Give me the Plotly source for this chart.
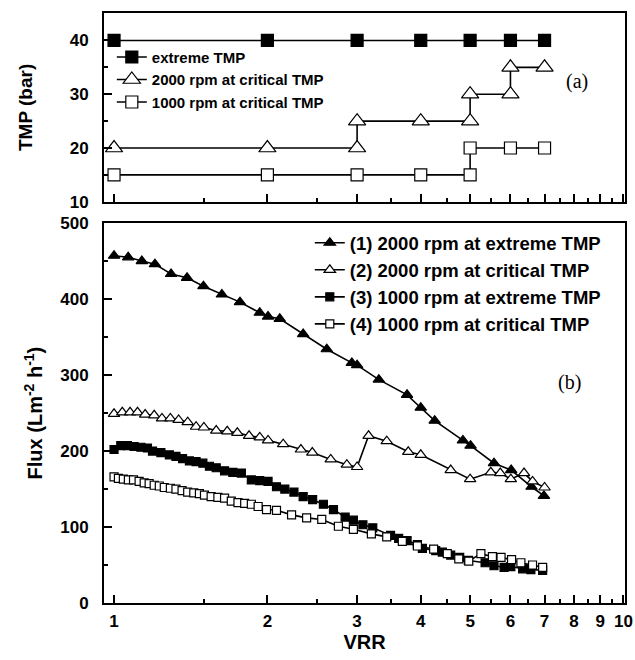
import plotly.graph_objects as go

# ---------------- data ----------------
# panel (a): TMP steps
tmp_vrr_ext = [1, 2, 3, 4, 5, 6, 7]
tmp_ext = [40, 40, 40, 40, 40, 40, 40]
tmp_vrr_2000 = [1, 2, 3, 3, 4, 5, 5, 6, 6, 7]
tmp_2000 = [20, 20, 20, 25, 25, 25, 30, 30, 35, 35]
tmp_vrr_1000 = [1, 2, 3, 4, 5, 5, 6, 7]
tmp_1000 = [15, 15, 15, 15, 15, 20, 20, 20]

# panel (b): flux
vrr1 = [1.00, 1.066, 1.134, 1.203, 1.294, 1.391, 1.498, 1.628, 1.767, 1.932, 2.006, 2.115,
        2.351, 2.616, 2.93, 3.0, 3.31, 3.76, 4.0, 4.26, 4.84, 5.01, 5.57, 6.02, 6.6, 6.98]
flux1 = [457, 455, 450, 446, 433, 428, 417, 406, 396, 382, 377, 374,
         354, 334, 316, 313, 294, 274, 257, 240, 214, 207, 184, 175, 153, 141]

vrr2 = [1.0, 1.038, 1.075, 1.112, 1.151, 1.199, 1.242, 1.29, 1.339, 1.395, 1.449, 1.501,
        1.587, 1.668, 1.746, 1.841, 1.932, 2.006, 2.148, 2.327, 2.45, 2.663, 2.864, 3.0,
        3.16, 3.43, 3.78, 4.0, 4.58, 5.0, 5.49, 5.73, 6.01, 6.38, 6.63, 7.0]
flux2 = [249, 251, 251, 251, 248, 247, 243, 243, 241, 238, 232, 231,
         227, 226, 224, 220, 218, 214, 209, 202, 198, 189, 182, 179,
         220, 213, 199, 195, 175, 163, 172, 171, 163, 171, 160, 152]

vrr3 = [1.0, 1.031, 1.062, 1.095, 1.129, 1.163, 1.19, 1.236, 1.284, 1.323, 1.363, 1.406,
        1.449, 1.494, 1.539, 1.587, 1.648, 1.711, 1.778, 1.86, 1.932, 2.006, 2.084, 2.164,
        2.255, 2.351, 2.454, 2.576, 2.696, 2.842, 2.95, 3.08, 3.22, 3.49, 3.62, 3.76,
        3.94, 4.03, 4.28, 4.41, 4.58, 4.77, 4.96, 5.35, 5.57, 5.83, 6.01, 6.34, 6.58, 6.94]
flux3 = [202, 207, 207, 206, 205, 204, 200, 198, 195, 193, 190, 187,
         186, 184, 180, 178, 174, 172, 171, 162, 161, 160, 153, 150,
         146, 140, 136, 130, 123, 113, 109, 103, 99, 89, 85, 82,
         77, 72, 69, 67, 63, 60, 56, 53, 49, 47, 48, 45, 44, 43]

vrr4 = [1.0, 1.02, 1.043, 1.067, 1.092, 1.12, 1.146, 1.172, 1.199, 1.227, 1.255, 1.29,
        1.323, 1.36, 1.395, 1.434, 1.471, 1.505, 1.551, 1.599, 1.648, 1.699, 1.751, 1.805,
        1.86, 1.918, 1.992, 2.084, 2.231, 2.388, 2.557, 2.757, 2.95, 3.2, 3.43, 3.68,
        3.94, 4.24, 4.51, 4.75, 4.97, 5.25, 5.53, 5.75, 6.03, 6.29, 6.63, 6.94]
flux4 = [166, 164, 163, 162, 162, 160, 158, 157, 155, 154, 152, 151,
         150, 148, 146, 145, 144, 142, 140, 139, 138, 134, 132, 131,
         130, 127, 123, 122, 116, 112, 110, 101, 97, 91, 87, 81,
         75, 71, 65, 58, 55, 65, 61, 60, 57, 53, 50, 47]

top_names = ["extreme TMP", "2000 rpm at critical TMP", "1000 rpm at critical TMP"]
bot_names = ["(1) 2000 rpm at extreme TMP", "(2) 2000 rpm at critical TMP",
             "(3) 1000 rpm at extreme TMP", "(4) 1000 rpm at critical TMP"]

x_major = [1, 2, 3, 4, 5, 6, 7, 8, 9, 10]
x_minor = [1.5, 2.5, 3.5, 4.5, 5.5, 6.5, 7.5, 8.5, 9.5]

# ---------------- figure ----------------
SANS = "Liberation Sans, Arial, sans-serif"
SERIF = "Liberation Serif, Times New Roman, serif"
LW = 1.6

fig = go.Figure()

def add(x, y, name, symbol, fill, size, xa, ya, legend):
    fig.add_trace(go.Scatter(
        x=x, y=y, name=name, mode="lines+markers", xaxis=xa, yaxis=ya, legend=legend,
        line=dict(color="black", width=LW),
        marker=dict(symbol=symbol, size=size, color=fill, line=dict(color="black", width=1.2)),
    ))

add(tmp_vrr_ext, tmp_ext, top_names[0], "square", "black", 12, "x2", "y2", "legend")
add(tmp_vrr_2000, tmp_2000, top_names[1], "triangle-up", "white", 15, "x2", "y2", "legend")
add(tmp_vrr_1000, tmp_1000, top_names[2], "square", "white", 12, "x2", "y2", "legend")

add(vrr1, flux1, bot_names[0], "triangle-up", "black", 10, "x", "y", "legend2")
add(vrr2, flux2, bot_names[1], "triangle-up", "white", 10, "x", "y", "legend2")
add(vrr3, flux3, bot_names[2], "square", "black", 8, "x", "y", "legend2")
add(vrr4, flux4, bot_names[3], "square", "white", 8, "x", "y", "legend2")

tickfont = dict(family=SANS, size=17, color="black", weight="bold")
titlefont = dict(family=SANS, size=20, color="black", weight="bold")

common_x = dict(
    type="log", range=[-0.0197, 1.003], automargin=False,
    tickmode="array", tickvals=x_major, ticktext=[str(v) for v in x_major],
    ticks="inside", ticklen=8, tickwidth=1.5, tickcolor="black",
    minor=dict(tickmode="array", tickvals=x_minor, ticks="inside", ticklen=4,
               tickwidth=1.5, tickcolor="black"),
    showline=True, linewidth=2, linecolor="black", mirror=True,
    showgrid=False, zeroline=False, tickfont=tickfont,
)

fig.update_layout(
    width=635, height=660,
    margin=dict(l=104, r=10, t=13, b=57),
    paper_bgcolor="white", plot_bgcolor="white",
    font=dict(family=SANS, color="black"),
    xaxis=dict(common_x, anchor="y", ticklabelstandoff=2,
               title=dict(text="VRR", font=titlefont, standoff=4)),
    xaxis2=dict(common_x, anchor="y2", matches="x", showticklabels=False),
    yaxis=dict(domain=[0, 0.6439], range=[0, 500], tickvals=[0, 100, 200, 300, 400, 500],
               automargin=False,
               ticks="inside", ticklen=8, tickwidth=1.5, tickcolor="black",
               minor=dict(tickvals=[50, 150, 250, 350, 450], ticks="inside", ticklen=4,
                          tickwidth=1.5, tickcolor="black"),
               showline=True, linewidth=2, linecolor="black", mirror=True,
               showgrid=False, zeroline=False, tickfont=tickfont, ticklabelstandoff=10,
               title=dict(text="Flux (Lm<sup>-2</sup> h<sup>-1</sup>)", font=titlefont, standoff=12)),
    yaxis2=dict(domain=[0.680, 1], range=[10, 45.1], tickvals=[10, 20, 30, 40],
                automargin=False,
                ticks="inside", ticklen=8, tickwidth=1.5, tickcolor="black",
                minor=dict(tickvals=[15, 25, 35], ticks="inside", ticklen=4,
                           tickwidth=1.5, tickcolor="black"),
                showline=True, linewidth=2, linecolor="black", mirror=True,
                showgrid=False, zeroline=False, tickfont=tickfont, ticklabelstandoff=10,
                title=dict(text="TMP (bar)", font=dict(titlefont, size=19), standoff=32)),
    legend=dict(x=0.015, y=0.953, xanchor="left", yanchor="top", bgcolor="rgba(0,0,0,0)",
                font=dict(family=SANS, size=15, color="black", weight="bold"),
                tracegroupgap=0),
    legend2=dict(x=0.395, y=0.642, xanchor="left", yanchor="top", bgcolor="rgba(0,0,0,0)",
                 font=dict(family=SANS, size=18.5, color="black", weight="bold"),
                 tracegroupgap=0),
    showlegend=True,
)

fig.add_annotation(text="(a)", xref="paper", yref="paper", x=(590 - 104) / 521,
                   y=(602.7 - 68) / 589.7, showarrow=False,
                   font=dict(family=SERIF, size=20, color="black"))
fig.add_annotation(text="(b)", xref="paper", yref="paper", x=(583 - 104) / 521,
                   y=(602.7 - 382) / 589.7, showarrow=False,
                   font=dict(family=SERIF, size=20, color="black"))

fig.write_html(
    "out.html",
    config={"displayModeBar": False},
    post_script="document.body.style.margin='0';document.body.style.overflow='hidden';",
)
